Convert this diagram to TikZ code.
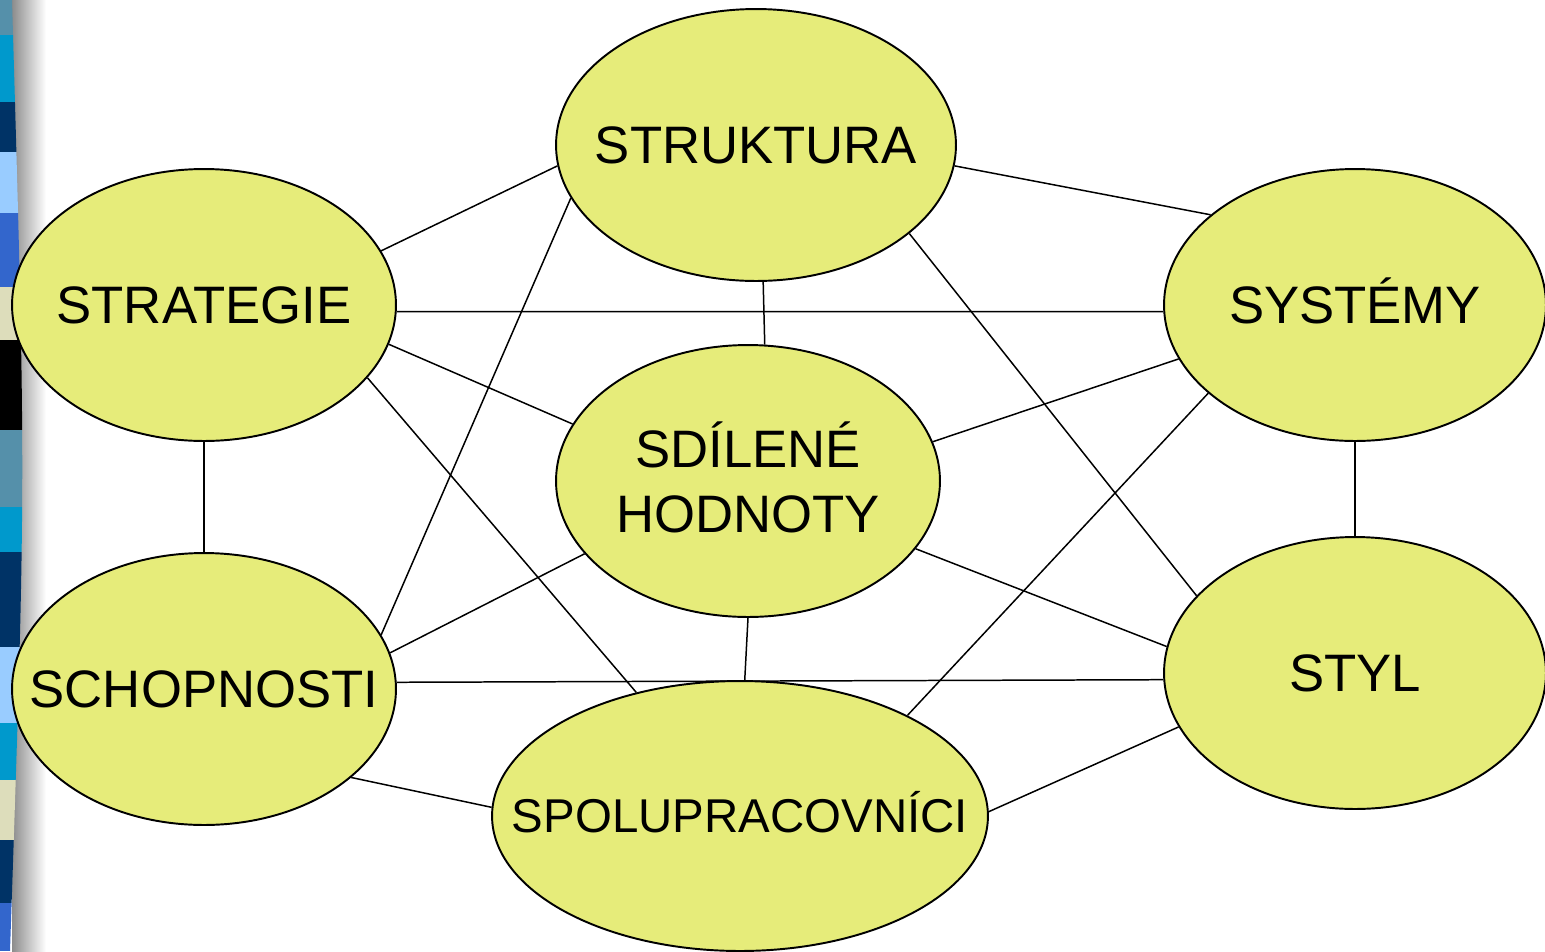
\documentclass[tikz,border=0pt]{standalone}
\usepackage{fontspec}
\setmainfont{Liberation Sans}
\usetikzlibrary{shapes.geometric}
\definecolor{ellfill}{RGB}{230,236,122}
\definecolor{cSteel}{RGB}{85,144,170}
\definecolor{cCyan}{RGB}{0,153,204}
\definecolor{cNavy}{RGB}{0,51,102}
\definecolor{cLight}{RGB}{153,204,255}
\definecolor{cRoyal}{RGB}{51,102,204}
\definecolor{cBeige}{RGB}{221,221,187}
\newcommand{\zw}[1]{\makebox[0pt]{#1}}
\tikzset{
  ell/.style={ellipse, draw=black, line width=1.1pt, fill=ellfill, inner sep=0pt,
    minimum width=7.68cm, minimum height=5.44cm,
    font=\fontsize{30}{36}\selectfont, text height=21.5pt, text depth=0pt},
  link/.style={draw=black, line width=0.85pt},
}
\begin{document}
\begin{tikzpicture}[x=0.02cm,y=-0.02cm]
\useasboundingbox (0,0) rectangle (1545,951);
\fill[white] (0,0) rectangle (1545,951);
% shadow
\shade[left color=black!45, right color=white] (12,0) rectangle (46,951);
% strip
\begin{scope}
\clip (0,0) -- (12,0) .. controls (26,480) .. (10,951) -- (0,951) -- cycle;
\fill[cSteel] (0,0) rectangle (30,35);
\fill[cCyan] (0,35) rectangle (30,102);
\fill[cNavy] (0,102) rectangle (30,152);
\fill[cLight] (0,152) rectangle (30,213);
\fill[cRoyal] (0,213) rectangle (30,287);
\fill[cBeige] (0,287) rectangle (30,340);
\fill[black] (0,340) rectangle (30,430);
\fill[cSteel] (0,430) rectangle (30,507);
\fill[cCyan] (0,507) rectangle (30,552);
\fill[cNavy] (0,552) rectangle (30,647);
\fill[cLight] (0,647) rectangle (30,723);
\fill[cCyan] (0,723) rectangle (30,780);
\fill[cBeige] (0,780) rectangle (30,840);
\fill[cNavy] (0,840) rectangle (30,903);
\fill[cRoyal] (0,903) rectangle (30,951);
\end{scope}
% nodes
\node[ell, minimum width=8cm] (struk) at (756,145) {\zw{STRUKTURA}};
\node[ell] (strat) at (204,305) {\zw{STRATEGIE}};
\node[ell, minimum width=7.64cm] (syst) at (1355,305) {\zw{SYSTÉMY}};
\node[ell, text height=, text depth=, font=\fontsize{30}{37}\selectfont] (sdil) at (748,481)
  {\zw{\raisebox{-3.4pt}[\height][\depth]{\renewcommand\arraystretch{1}\begin{tabular}{@{}c@{}}SDÍLENÉ\\HODNOTY\end{tabular}}}};
\node[ell] (schop) at (204,689) {\zw{SCHOPNOSTI}};
\node[ell, minimum width=7.64cm] (styl) at (1355,673) {\zw{STYL}};
\node[ell, minimum width=9.92cm, minimum height=5.4cm, font=\fontsize{27}{32}\selectfont, text height=19.3pt] (spol) at (740,816) {\zw{SPOLUPRACOVNÍCI}};
% connectors
\draw[link] (strat.17.9) -- (struk.186.6);
\draw[link] (struk.-6.8) -- (syst.148.5);
\draw[link] (strat.-2.4) -- (syst.182.4);
\draw[link] (struk.273.4) -- (sdil.83.3);
\draw[link] (struk.-30.6) -- (styl.154.7);
\draw[link] (struk.196.6) -- (schop.17.9);
\draw[link] (strat.-12.8) -- (sdil.162.4);
\draw[link] (strat.-24.3) -- (spol.130.9);
\draw[link] (strat.south) -- (schop.north);
\draw[link] (syst.197.7) -- (sdil.12.1);
\draw[link] (syst.south) -- (styl.north);
\draw[link] (syst.211.5) -- (spol.31.5);
\draw[link] (sdil.204.2) -- (schop.11.8);
\draw[link] (sdil.-22.2) -- (styl.172.8);
\draw[link] (sdil.south) -- (spol.88);
\draw[link] (schop.2.4) -- (styl.182.4);
\draw[link] (schop.-31.4) -- (spol.178.2);
\draw[link] (spol.1.8) -- (styl.197.7);
\end{tikzpicture}
\end{document}
